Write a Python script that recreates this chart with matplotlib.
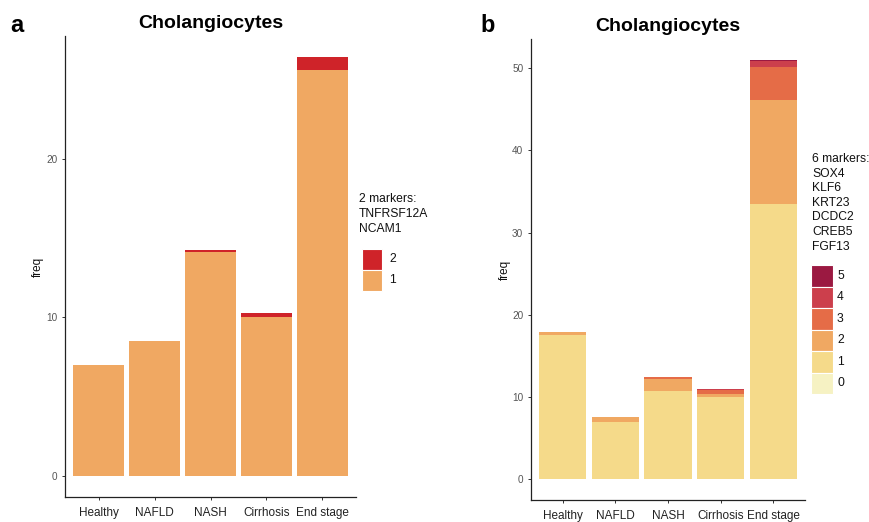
import numpy as np
import matplotlib
matplotlib.use("Agg")
import matplotlib.pyplot as plt
from matplotlib.patches import Rectangle

plt.rcParams['font.family'] = ['Liberation Sans', 'DejaVu Sans']

categories = ["Healthy", "NAFLD", "NASH", "Cirrhosis", "End stage"]

# Panel a: 2 markers (TNFRSF12A, NCAM1)
a_levels = ["1", "2"]
a_values = {
    "1": [7.0, 8.5, 14.1, 10.0, 25.6],
    "2": [0.0, 0.0, 0.15, 0.25, 0.8],
}
a_colors = {"1": "#F0A862", "2": "#CF2329"}
a_title_lines = ["2 markers:", "TNFRSF12A", "NCAM1"]

# Panel b: 6 markers
b_levels = ["0", "1", "2", "3", "4", "5"]
b_values = {
    "0": [0.0, 0.0, 0.0, 0.0, 0.0],
    "1": [17.56, 7.0, 10.76, 10.0, 33.5],
    "2": [0.37, 0.53, 1.46, 0.4, 12.6],
    "3": [0.0, 0.0, 0.17, 0.4, 4.1],
    "4": [0.0, 0.0, 0.0, 0.13, 0.65],
    "5": [0.0, 0.0, 0.0, 0.0, 0.15],
}
b_colors = {"0": "#F6F2C3", "1": "#F5DA8A", "2": "#F0A862",
            "3": "#E56C47", "4": "#CC3F4C", "5": "#9B1941"}
b_title_lines = ["6 markers:", "SOX4", "KLF6", "KRT23", "DCDC2", "CREB5", "FGF13"]

W, H = 869, 522
fig = plt.figure(figsize=(W / 100, H / 100), dpi=100)


def fx(x):
    return x / W


def fy(y):
    return 1 - y / H


def make_axes(left, top, right, bottom):
    return fig.add_axes([fx(left), fy(bottom), (right - left) / W, (bottom - top) / H])


def draw_panel(ax, levels, values, colors, yticks):
    x = np.arange(len(categories))
    bottom = np.zeros(len(categories))
    for lv in levels:
        v = np.array(values[lv])
        ax.bar(x, v, bottom=bottom, width=0.9, color=colors[lv],
               edgecolor="none", linewidth=0)
        bottom += v
    top = bottom.max()
    ax.set_ylim(-0.05 * top, top * 1.05)
    ax.set_xlim(-0.6, len(categories) - 0.4)
    ax.set_xticks(x)
    ax.set_xticklabels(categories, fontsize=8.5, color="#222222")
    ax.set_yticks(yticks)
    ax.set_yticklabels([str(t) for t in yticks], fontsize=7.2, color="#555555")
    for s in ["top", "right"]:
        ax.spines[s].set_visible(False)
    for s in ["left", "bottom"]:
        ax.spines[s].set_linewidth(0.9)
        ax.spines[s].set_color("#222222")
    ax.tick_params(axis="y", length=2.5, width=0.7, color="#333333", pad=3)
    ax.tick_params(axis="x", length=2.5, width=0.7, color="#333333", pad=5)
    ax.set_ylabel("freq", fontsize=8.5, color="#111111")
    ax.set_title("Cholangiocytes", fontsize=14, fontweight="bold", pad=6)


# Panel a
ax_a = make_axes(65, 36, 356, 497)
draw_panel(ax_a, a_levels, a_values, a_colors, [0, 10, 20])
ax_a.yaxis.set_label_coords(-0.072, 0.5)

# Panel b
ax_b = make_axes(531, 39, 805, 500)
draw_panel(ax_b, b_levels, b_values, b_colors, [0, 10, 20, 30, 40, 50])
ax_b.yaxis.set_label_coords(-0.073, 0.5)

# Panel letters
fig.text(fx(10), fy(25), "a", fontsize=17, fontweight="bold", ha="left", va="center")
fig.text(fx(480), fy(25), "b", fontsize=17, fontweight="bold", ha="left", va="center")


def draw_legend(title_lines, title_x, title_y0, line_step, levels, colors,
                key_x, key_w, key_tops, key_h, label_x):
    for i, line in enumerate(title_lines):
        fig.text(fx(title_x), fy(title_y0 + i * line_step), line, fontsize=8.7,
                 ha="left", va="center", color="#111111")
    for lv, kt in zip(levels, key_tops):
        fig.add_artist(Rectangle((fx(key_x), fy(kt + key_h)), key_w / W, key_h / H,
                                 transform=fig.transFigure, facecolor=colors[lv],
                                 edgecolor="white", linewidth=0.8))
        fig.text(fx(label_x), fy(kt + key_h / 2), lv, fontsize=8.7,
                 ha="left", va="center", color="#111111")


# Legend a (top entry first: 2, 1)
draw_legend(a_title_lines, 359, 199.5, 14.5, ["2", "1"], a_colors,
            362, 20, [249, 270], 20.5, 389)

# Legend b (5 down to 0)
draw_legend(b_title_lines, 812, 159, 14.6, ["5", "4", "3", "2", "1", "0"], b_colors,
            811, 22, [265, 286.5, 308, 329.5, 351, 372.5], 21.5, 837)

fig.savefig("out.png", dpi=100, facecolor="white")
